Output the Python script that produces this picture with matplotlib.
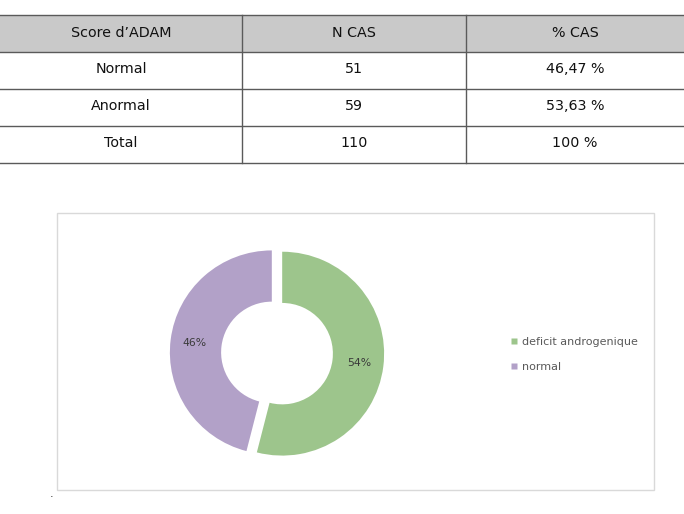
import matplotlib
matplotlib.use("Agg")
import matplotlib.pyplot as plt
from matplotlib.patches import Rectangle
from matplotlib.lines import Line2D

# ---- data ----
table_header = ["Score d\u2019ADAM", "N CAS", "% CAS"]
row_labels = ["Normal", "Anormal", "Total"]
n_cas = ["51", "59", "110"]
pct_cas = ["46,47 %", "53,63 %", "100 %"]

donut_labels = ["deficit androgenique", "normal"]
donut_values = [54, 46]
donut_colors = ["#9dc58c", "#b2a1c8"]

W, H = 684, 514
fig = plt.figure(figsize=(W / 100, H / 100), dpi=100)
fig.patch.set_facecolor("white")

# ---- table drawn in a full-figure pixel axes ----
bg = fig.add_axes([0, 0, 1, 1])
bg.set_xlim(0, W)
bg.set_ylim(H, 0)
bg.axis("off")

col_edges = [0, 242, 466, W]
row_edges = [15, 52, 89, 126, 163]
bg.add_patch(Rectangle((0, row_edges[0]), W, row_edges[1] - row_edges[0],
                       facecolor="#c9c9c9", edgecolor="none", zorder=1))
for y in row_edges:
    bg.plot([0, W], [y, y], color="#5a5a5a", lw=1.0, zorder=2)
for x in col_edges[1:-1]:
    bg.plot([x, x], [row_edges[0], row_edges[-1]], color="#5a5a5a", lw=1.0, zorder=2)

font = "DejaVu Sans"
fs = 10.3
centers = [(col_edges[i] + col_edges[i + 1]) / 2 for i in range(3)]
for i, t in enumerate(table_header):
    bg.text(centers[i], (row_edges[0] + row_edges[1]) / 2 - 0.5, t, ha="center", va="center",
            fontsize=fs, color="#111111", family=font, zorder=3)
cells = list(zip(row_labels, n_cas, pct_cas))
for r, row in enumerate(cells):
    yc = (row_edges[r + 1] + row_edges[r + 2]) / 2 - 1.5
    for c, t in enumerate(row):
        bg.text(centers[c], yc, t, ha="center", va="center",
                fontsize=fs, color="#111111", family=font, zorder=3)

# chart frame
bg.add_patch(Rectangle((57, 213), 597, 277, facecolor="none",
                       edgecolor="#d9d9d9", lw=1.0, zorder=1))
bg.text(52, 494, ".", ha="center", va="center", fontsize=8, color="#222222")

# ---- donut ----
cx, cy, size = 277, 353, 230
ax = fig.add_axes([(cx - size / 2) / W, (H - cy - size / 2) / H, size / W, size / H])
wedges, texts, autotexts = ax.pie(
    donut_values, colors=donut_colors, startangle=90, counterclock=False,
    explode=[0.05, 0.05], radius=0.975, autopct="%d%%", pctdistance=0.76,
    wedgeprops=dict(width=0.49, edgecolor="none"),
    textprops=dict(fontsize=7.8, color="#3a3a3a"))
ax.set_xlim(-1.1, 1.1)
ax.set_ylim(-1.1, 1.1)
ax.set_aspect("equal")
ax.axis("off")

handles = [Line2D([0], [0], marker="s", linestyle="none", markersize=4.5,
                  markerfacecolor=c, markeredgecolor="none") for c in donut_colors]
fig.legend(handles, donut_labels, loc="upper left",
           bbox_to_anchor=(505 / W, 1 - 331 / H), frameon=False,
           fontsize=8, labelcolor="#595959", handlelength=0.6, handletextpad=0.4,
           labelspacing=1.35, borderpad=0)

fig.savefig("out.png", dpi=100)
